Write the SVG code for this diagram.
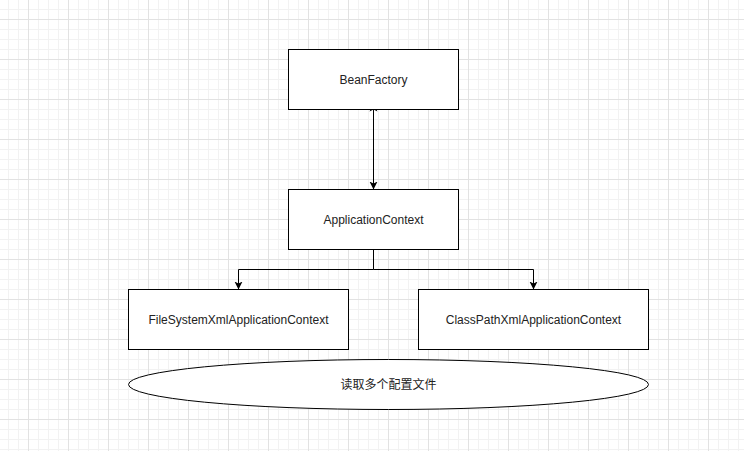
<svg xmlns="http://www.w3.org/2000/svg" width="744" height="451" viewBox="0 0 744 451">
<defs>
<pattern id="minor" x="8" y="9" width="10" height="10" patternUnits="userSpaceOnUse">
<path d="M0.5,0 V10 M0,0.5 H10" stroke="#f2f2f2" stroke-width="1" fill="none"/>
</pattern>
<pattern id="major" x="28" y="19" width="40" height="40" patternUnits="userSpaceOnUse">
<path d="M0.5,0 V40 M0,0.5 H40" stroke="#e2e2e2" stroke-width="1" fill="none"/>
</pattern>
<marker id="arrow" markerWidth="10" markerHeight="10" refX="8" refY="4" orient="auto" markerUnits="userSpaceOnUse">
<path d="M0,0 L8,4 L0,8 L2,4 Z" fill="#000"/>
</marker>
<marker id="arrowStart" markerWidth="10" markerHeight="10" refX="6" refY="4" orient="auto" markerUnits="userSpaceOnUse">
<path d="M8,0 L0,4 L8,8 L6,4 Z" fill="#000"/>
</marker>
</defs>
<style>
.box{fill:#fff;stroke:#000;stroke-width:1}
.lbl{font-family:"Liberation Sans",Arial,"Noto Sans CJK SC",sans-serif;font-size:12px;fill:#222;text-anchor:middle;dominant-baseline:central}
.edge{fill:none;stroke:#000;stroke-width:1}
</style>
<rect width="744" height="451" fill="#fff"/>
<rect width="744" height="451" fill="url(#minor)"/>
<rect width="744" height="451" fill="url(#major)"/>
<g id="connectors">
<path class="edge" d="M373.5,109.5 V189.5" marker-start="url(#arrowStart)" marker-end="url(#arrow)"/>
<path class="edge" d="M373.5,249.5 V269.5 H238.5 V289.5" marker-end="url(#arrow)"/>
<path class="edge" d="M373.5,269.5 H533.5 V289.5" marker-end="url(#arrow)"/>
</g>
<g id="BeanFactory">
<rect class="box" x="288.5" y="49.5" width="170" height="60"/>
<text class="lbl" x="373.5" y="80">BeanFactory</text>
</g>
<g id="ApplicationContext">
<rect class="box" x="288.5" y="189.5" width="170" height="60"/>
<text class="lbl" x="373.5" y="220">ApplicationContext</text>
</g>
<g id="FileSystemXmlApplicationContext">
<rect class="box" x="128.5" y="289.5" width="220" height="60"/>
<text class="lbl" x="238.5" y="320">FileSystemXmlApplicationContext</text>
</g>
<g id="ClassPathXmlApplicationContext">
<rect class="box" x="418.5" y="289.5" width="230" height="60"/>
<text class="lbl" x="533.5" y="320">ClassPathXmlApplicationContext</text>
</g>
<g id="note">
<ellipse class="box" cx="388.5" cy="384.5" rx="260" ry="25"/>
<text class="lbl" x="388.5" y="385">读取多个配置文件</text>
</g>
</svg>
